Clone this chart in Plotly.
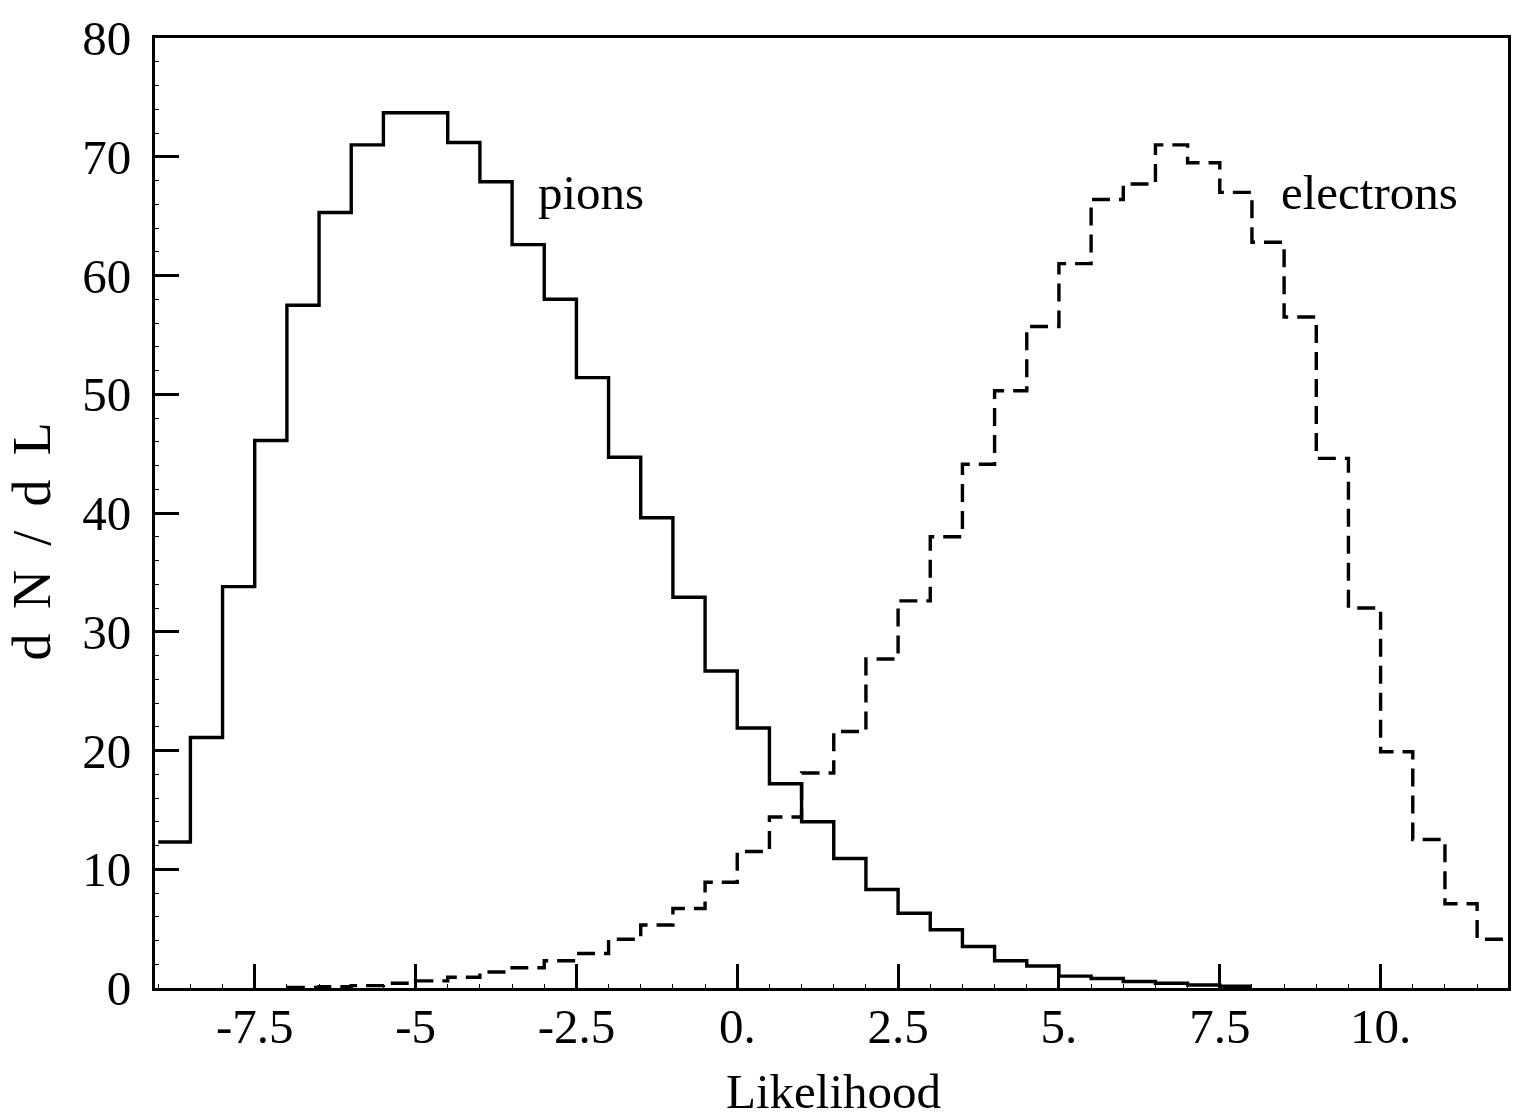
import plotly.graph_objects as go

# Likelihood histograms for pions and electrons (bin width 0.5)
pion_start = -9.0
pion_counts = [12.3, 21.1, 33.8, 46.1, 57.5, 65.3, 71.0, 73.7, 73.7, 71.2,
               67.9, 62.6, 58.0, 51.4, 44.7, 39.6, 32.9, 26.7, 21.9, 17.2,
               14.0, 10.9, 8.3, 6.3, 4.9, 3.5, 2.3, 1.85, 1.0, 0.8,
               0.55, 0.4, 0.25, 0.15]

electron_start = -7.0
electron_counts = [0.05, 0.1, 0.2, 0.4, 0.6, 0.9, 1.35, 1.7, 2.3, 2.9,
                   4.1, 5.3, 6.7, 8.9, 11.5, 14.4, 18.1, 21.6, 27.7, 32.6,
                   38.0, 44.1, 50.3, 55.7, 61.0, 66.4, 67.7, 71.0, 69.5, 67.0,
                   62.8, 56.5, 44.6, 32.0, 19.9, 12.5, 7.1, 4.1]

bin_width = 0.5

x_tick_vals = [-7.5, -5, -2.5, 0, 2.5, 5, 7.5, 10]
x_tick_text = ["-7.5", "-5", "-2.5", "0.", "2.5", "5.", "7.5", "10."]
y_tick_vals = [0, 10, 20, 30, 40, 50, 60, 70, 80]

x_range = [-9.05, 11.98]
y_range = [0, 80]

FONT = "Liberation Serif, Times New Roman, serif"
SP = "\u00a0\u2009"  # letter spacing used in the vertical axis label


def step_outline(start, counts, width):
    """Edges and heights for an hv step outline of a histogram."""
    edges = [start + i * width for i in range(len(counts) + 1)]
    heights = list(counts) + [counts[-1]]
    return edges, heights


px_, py_ = step_outline(pion_start, pion_counts, bin_width)
ex_, ey_ = step_outline(electron_start, electron_counts, bin_width)

fig = go.Figure()
fig.add_trace(go.Scatter(
    x=px_, y=py_, mode="lines", line_shape="hv",
    line=dict(color="black", width=3.4), name="pions", showlegend=False,
))
fig.add_trace(go.Scatter(
    x=ex_, y=ey_, mode="lines", line_shape="hv",
    line=dict(color="black", width=3.4, dash="18px,9px"), name="electrons",
    showlegend=False,
))

fig.add_annotation(x=-2.27, y=67.0, text="pions", showarrow=False,
                   font=dict(family=FONT, size=49, color="black"))
fig.add_annotation(x=9.82, y=67.0, text="electrons", showarrow=False,
                   font=dict(family=FONT, size=49, color="black"))

# vertical axis label
fig.add_annotation(
    xref="paper", yref="y", x=-0.091, y=37.6, textangle=-90,
    text=SP.join(["d", "N", "/", "d", "L"]), showarrow=False,
    xanchor="center", yanchor="middle",
    font=dict(family=FONT, size=54, color="black"),
)

# horizontal axis label
fig.add_annotation(
    xref="x", yref="paper", x=1.5, y=-0.109, text="Likelihood",
    showarrow=False, xanchor="center", yanchor="middle",
    font=dict(family=FONT, size=49, color="black"),
)

axis_common = dict(
    showgrid=False, zeroline=False, automargin=False,
    showline=True, linecolor="black", linewidth=3, mirror=True,
    ticks="inside", ticklen=24, tickwidth=3, tickcolor="black",
    tickfont=dict(family=FONT, size=49, color="black"),
)

fig.update_xaxes(
    range=x_range, tickmode="array", tickvals=x_tick_vals, ticktext=x_tick_text,
    minor=dict(ticks="inside", ticklen=4, tickwidth=1, dtick=0.5,
               tickcolor="black"),
    ticklabelstandoff=-7,
    **axis_common,
)
fig.update_yaxes(
    range=y_range, tickmode="array", tickvals=y_tick_vals,
    minor=dict(ticks="inside", ticklen=4, tickwidth=1, dtick=2,
               tickcolor="black"),
    ticklabelstandoff=11,
    **axis_common,
)

fig.update_layout(
    width=1526, height=1120,
    margin=dict(l=155, r=18, t=38, b=132),
    paper_bgcolor="white", plot_bgcolor="white",
    font=dict(family=FONT, color="black"),
)

fig.write_html("out.html")
